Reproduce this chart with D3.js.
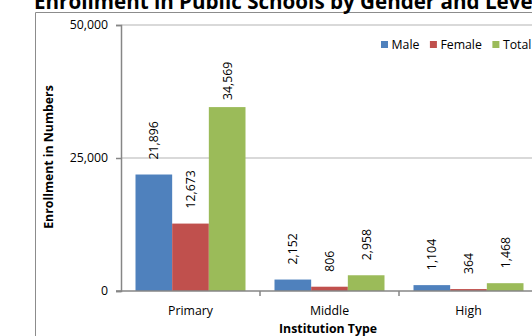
<!DOCTYPE html>
<html>
<head>
<meta charset="utf-8">
<script src="https://cdn.jsdelivr.net/npm/d3@7"></script>
<style>
  body { margin: 0; background: #fff; }
  svg { display: block; font-family: "Open Sans", sans-serif; }
</style>
</head>
<body>
<div id="chart"></div>
<script>
// data
let categories = ["Primary", "Middle", "High"];
let seriesNames = ["Male", "Female", "Total"];
let male = [21896, 2152, 1104];
let female = [12673, 806, 364];
let total = [34569, 2958, 1468];
let yTicks = [0, 25000, 50000];
let colors = ["#4f81bd", "#c0504d", "#9bbb59"];

let width = 532, height = 336;
let plotLeft = 121, plotTop = 25, plotBottom = 291, band = 139;

let svg = d3.select("#chart").append("svg")
    .attr("width", width)
    .attr("height", height);

let rows = categories.map(function(c, i) {
    return { cat: c, values: [male[i], female[i], total[i]] };
});

let x = d3.scaleBand().domain(categories)
    .range([plotLeft, plotLeft + band * categories.length])
    .paddingInner(0).paddingOuter(0);

let xSub = d3.scaleBand().domain(seriesNames)
    .range([14.5, band - 14.5]);

let y = d3.scaleLinear().domain([0, 50000]).range([plotBottom, plotTop]);

// outer chart frame (cropped)
svg.append("line").attr("x1", 35.5).attr("x2", 35.5).attr("y1", 12.5).attr("y2", height)
    .attr("stroke", "#8c8c8c").attr("stroke-width", 1);
svg.append("line").attr("x1", 35.5).attr("x2", width).attr("y1", 12.5).attr("y2", 12.5)
    .attr("stroke", "#8c8c8c").attr("stroke-width", 1);

// title, mostly cut off at the top
svg.append("text")
    .attr("x", 34).attr("y", 9)
    .style("font-size", "20.6px").style("font-weight", "bold")
    .attr("fill", "#000")
    .text("Enrollment in Public Schools by Gender and Level");

// gridlines
svg.append("g").selectAll("line")
    .data(yTicks.filter(function(d) { return d > 0; }))
    .enter().append("line")
    .attr("x1", plotLeft).attr("x2", width)
    .attr("y1", function(d) { return y(d); })
    .attr("y2", function(d) { return y(d); })
    .attr("stroke", "#d9d9d9").attr("stroke-width", 2);

// bars
let groups = svg.append("g").selectAll("g")
    .data(rows)
    .enter().append("g")
    .attr("transform", function(d) { return "translate(" + x(d.cat) + ",0)"; });

let bars = groups.selectAll("g")
    .data(function(d) {
        return d.values.map(function(v, i) { return { name: seriesNames[i], value: v, idx: i }; });
    })
    .enter().append("g");

bars.append("rect")
    .attr("x", function(d) { return xSub(d.name); })
    .attr("width", xSub.bandwidth())
    .attr("y", function(d) { return y(d.value); })
    .attr("height", function(d) { return plotBottom - y(d.value); })
    .attr("fill", function(d) { return colors[d.idx]; });

// value labels, rotated, above each bar
bars.append("text")
    .attr("transform", function(d) {
        let gap = d.value > 30000 ? 7 : 15;
        let cx = xSub(d.name) + xSub.bandwidth() / 2;
        return "translate(" + (cx + 4.5) + "," + (y(d.value) - gap) + ") rotate(-90)";
    })
    .style("font-size", "12.3px")
    .attr("fill", "#000")
    .text(function(d) { return d3.format(",")(d.value); });

// y axis
let yAxis = svg.append("g")
    .attr("transform", "translate(" + plotLeft + ",0)")
    .call(d3.axisLeft(y).tickValues(yTicks).tickFormat(d3.format(",")).tickSize(5).tickPadding(8));
yAxis.select(".domain").attr("stroke", "#868686").attr("stroke-width", 1.5);
yAxis.selectAll(".tick line").attr("stroke", "#868686").attr("stroke-width", 1.5);
yAxis.selectAll("text").style("font-size", "12.3px").attr("fill", "#000")
    .style("font-family", "Open Sans, sans-serif");

// x axis
let xAxis = svg.append("g")
    .attr("transform", "translate(0," + plotBottom + ")");
xAxis.append("line")
    .attr("x1", plotLeft - 5).attr("x2", width)
    .attr("stroke", "#868686").attr("stroke-width", 1.5);
xAxis.selectAll(".sep")
    .data(categories.slice(1))
    .enter().append("line")
    .attr("class", "sep")
    .attr("x1", function(d) { return x(d); })
    .attr("x2", function(d) { return x(d); })
    .attr("y1", 0).attr("y2", 5)
    .attr("stroke", "#868686").attr("stroke-width", 1.5);
xAxis.selectAll(".lbl")
    .data(categories)
    .enter().append("text")
    .attr("class", "lbl")
    .attr("x", function(d) { return x(d) + band / 2; })
    .attr("y", 24)
    .attr("text-anchor", "middle")
    .style("font-size", "12.3px")
    .attr("fill", "#000")
    .text(function(d) { return d; });

// axis titles
svg.append("text")
    .attr("x", 328).attr("y", 332.5)
    .attr("text-anchor", "middle")
    .style("font-size", "12.3px").style("font-weight", "bold")
    .text("Institution Type");

svg.append("text")
    .attr("transform", "translate(53,157) rotate(-90)")
    .attr("text-anchor", "middle")
    .style("font-size", "12.3px").style("font-weight", "bold")
    .text("Enrollment in Numbers");

// legend
let legend = svg.append("g").attr("transform", "translate(381,44.5)");
let lx = 0;
seriesNames.forEach(function(name, i) {
    legend.append("rect")
        .attr("x", lx).attr("y", -3.5)
        .attr("width", 7).attr("height", 7)
        .attr("fill", colors[i]);
    let t = legend.append("text")
        .attr("x", lx + 10.5).attr("y", 4.3)
        .style("font-size", "12.3px")
        .attr("fill", "#000")
        .text(name);
    lx += 10.5 + t.node().getComputedTextLength() + 10.5;
});
</script>
</body>
</html>
